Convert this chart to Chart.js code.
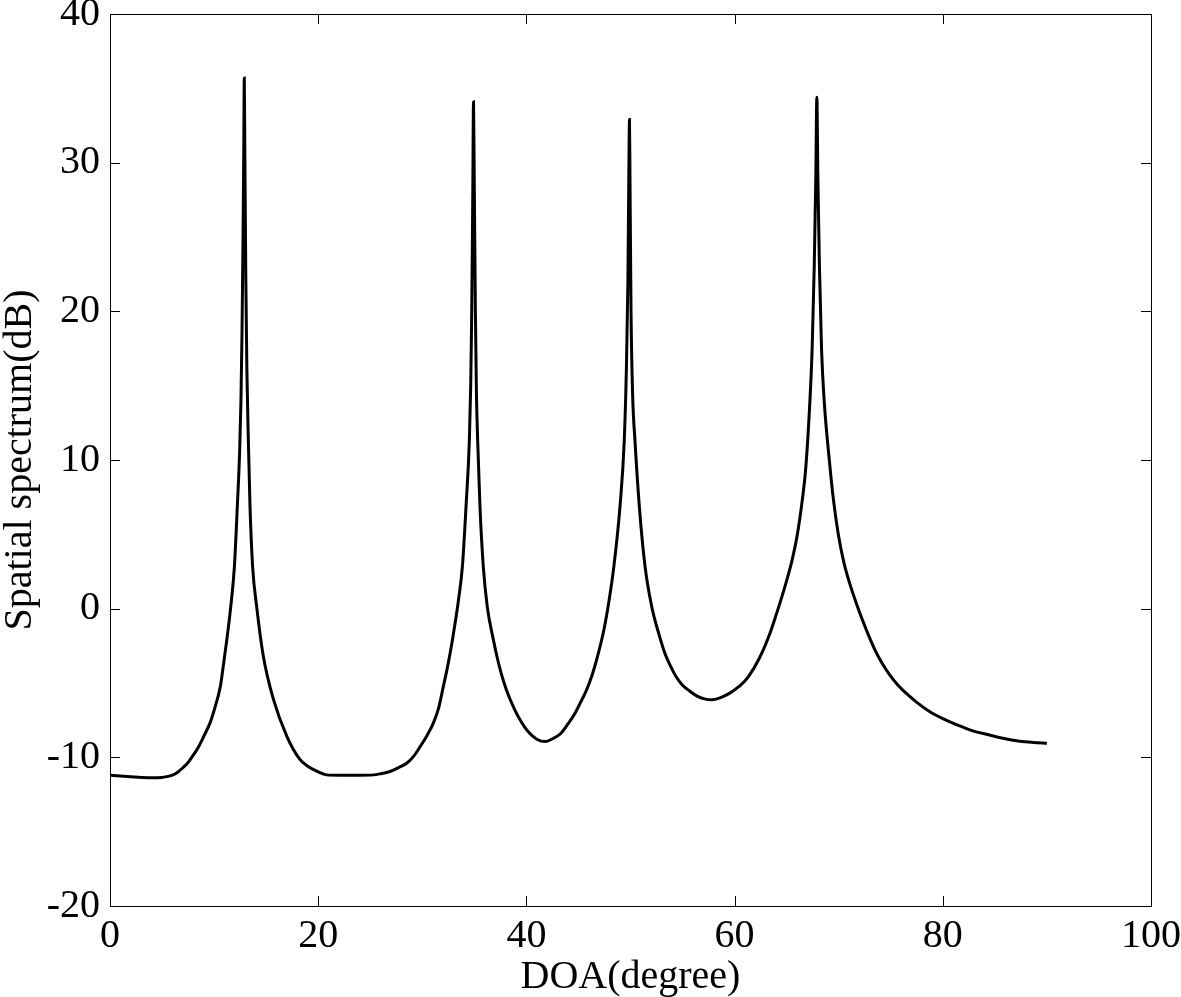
<!DOCTYPE html>
<html>
<head>
<meta charset="utf-8">
<script src="https://cdn.jsdelivr.net/npm/chart.js@4/dist/chart.umd.min.js"></script>
<style>
  html, body { margin: 0; padding: 0; background: #fff; }
  #wrap { width: 1181px; height: 997px; position: relative; }
</style>
</head>
<body>
<div id="wrap"><canvas id="c" width="1181" height="997"></canvas></div>
<script>
const doa = [
  0, 1, 2, 3, 4, 5, 6, 6.5, 7, 7.5, 8, 8.5, 9, 9.6, 10.1, 10.6, 10.95, 11.2, 11.6, 11.95,
  12.23, 12.45, 12.58, 12.68, 12.78, 12.85, 12.9, 12.95, 13.05, 13.15, 13.29, 13.45, 13.7, 14.09, 14.73,
  15.7, 17, 18.2, 19, 19.9, 20.8, 22, 24, 25.3, 26, 26.9, 27.7, 28.5, 29.2, 29.8, 30.4, 31.06,
  31.6, 32.0, 32.4, 32.75, 33.1, 33.46, 33.85, 34.2, 34.52, 34.65, 34.75, 34.85, 34.92, 35.0, 35.1,
  35.2, 35.32, 35.54, 35.86, 36.24, 36.8, 37.2, 37.6, 38.1, 38.85, 39.5, 40.2, 41, 41.8, 42.5, 43.3,
  44, 44.7, 45.2, 45.7, 46.3, 46.8, 47.45, 47.93, 48.4, 48.99, 49.4, 49.6, 49.75, 49.85, 49.9,
  49.95, 50.05, 50.2, 50.43, 50.85, 51.4, 52.04, 52.64, 53.3, 53.8, 54.4, 55.0, 55.7, 56.4, 57.1,
  57.8, 58.6, 59.5, 60.4, 61.3, 62.4, 63.4, 64.0, 64.84, 65.5, 66.03, 66.5, 66.83, 67.24, 67.45,
  67.65, 67.8, 67.9, 68.0, 68.15, 68.35, 68.6, 69.16, 69.5, 69.96, 70.5, 71.1, 71.7, 72.3, 72.9,
  73.5, 74.2, 74.9, 75.7, 76.5, 77.5, 78.8, 80, 81.3, 82.8, 84.5, 86, 87.4, 88.7, 90
];
const spectrum = [
  -11.2, -11.25, -11.3, -11.35, -11.38, -11.35, -11.2, -11.0, -10.7, -10.35, -9.85, -9.3, -8.6, -7.7, -6.6, -5.24, -3.5, -2.2, 0.14, 2.83,
  6.87, 10.5, 14, 18.5, 25, 31, 35.7, 31, 22, 16, 11.3, 6.87, 2.83, 0.14, -3.2,
  -6.1, -8.6, -10.1, -10.6, -10.95, -11.18, -11.2, -11.2, -11.18, -11.1, -10.95, -10.7, -10.4, -9.9, -9.27, -8.6, -7.7,
  -6.6, -5.3, -4.0, -2.7, -1.2, 0.5, 2.83, 6.87, 11.3, 15, 20, 28, 34.1, 28, 20,
  14.5, 11.3, 6.87, 2.83, 0.14, -2.0, -3.3, -4.4, -5.5, -6.75, -7.6, -8.3, -8.78, -8.94, -8.75, -8.4,
  -7.75, -7.0, -6.3, -5.6, -4.5, -3.3, -1.4, 0.5, 2.83, 6.87, 11.3, 16, 22, 30, 32.9,
  29, 20, 14.5, 11.3, 6.87, 2.83, 0.14, -1.5, -3.0, -3.8, -4.6, -5.15, -5.55, -5.88, -6.07,
  -6.13, -6.0, -5.7, -5.25, -4.6, -3.3, -1.65, -0.4, 1.5, 3.2, 5.0, 7.3, 9.4, 14.04, 17.5,
  23, 29, 34.4, 29, 23, 17.5, 14.04, 9.56, 7.3, 5.0, 3.1, 1.6, 0.35, -0.8, -1.85,
  -2.8, -3.7, -4.45, -5.15, -5.7, -6.3, -6.95, -7.4, -7.8, -8.2, -8.5, -8.75, -8.92, -9.0, -9.05
];
const xTicks = [0, 20, 40, 60, 80, 100];
const yTicks = [-20, -10, 0, 10, 20, 30, 40];
const xTitle = 'DOA(degree)';
const yTitle = 'Spatial spectrum(dB)';

const FONT = '"Liberation Serif", "Times New Roman", serif';

const frameTicks = {
  id: 'frameTicks',
  afterDraw(chart) {
    const { ctx, chartArea: a, scales } = chart;
    ctx.save();
    ctx.strokeStyle = '#000';
    ctx.lineWidth = 1;
    ctx.strokeRect(Math.round(a.left) + 0.5, Math.round(a.top) + 0.5,
                   Math.round(a.right - a.left), Math.round(a.bottom - a.top));
    const L = 10;
    ctx.beginPath();
    xTicks.forEach(v => {
      const px = Math.round(scales.x.getPixelForValue(v)) + 0.5;
      ctx.moveTo(px, a.bottom); ctx.lineTo(px, a.bottom - L);
      ctx.moveTo(px, a.top); ctx.lineTo(px, a.top + L);
    });
    yTicks.forEach(v => {
      const py = Math.round(scales.y.getPixelForValue(v)) + 0.5;
      ctx.moveTo(a.left, py); ctx.lineTo(a.left + L, py);
      ctx.moveTo(a.right, py); ctx.lineTo(a.right - L, py);
    });
    ctx.stroke();
    ctx.restore();
  }
};

new Chart(document.getElementById('c'), {
  type: 'line',
  data: {
    datasets: [{
      data: doa.map((x, i) => ({ x: x, y: spectrum[i] })),
      borderColor: '#000',
      borderWidth: 3,
      pointRadius: 0,
      cubicInterpolationMode: 'monotone',
      fill: false
    }]
  },
  options: {
    responsive: false,
    animation: false,
    devicePixelRatio: 1,
    layout: { padding: { top: 14, right: 30, left: 0, bottom: 0 } },
    plugins: { legend: { display: false }, tooltip: { enabled: false } },
    scales: {
      x: {
        type: 'linear',
        min: 0, max: 100,
        afterBuildTicks(s) { s.ticks = xTicks.map(v => ({ value: v })); },
        afterFit(s) { s.height = 91; s.paddingLeft = 0; s.paddingRight = 0; },
        grid: { display: false, drawTicks: false },
        border: { display: false },
        ticks: { color: '#000', font: { family: FONT, size: 40 }, padding: 6, maxRotation: 0 },
        title: { display: true, text: xTitle, color: '#000', font: { family: FONT, size: 40, lineHeight: 1.0 }, padding: { top: 0, bottom: 0 } }
      },
      y: {
        type: 'linear',
        min: -20, max: 40,
        afterBuildTicks(s) { s.ticks = yTicks.map(v => ({ value: v })); },
        afterFit(s) { s.width = 110; s.paddingTop = 0; s.paddingBottom = 0; },
        grid: { display: false, drawTicks: false },
        border: { display: false },
        ticks: { color: '#000', font: { family: FONT, size: 40 }, padding: 10 },
        title: { display: true, text: yTitle, color: '#000', font: { family: FONT, size: 40, lineHeight: 1.0 }, padding: { top: 0, bottom: 0 } }
      }
    }
  },
  plugins: [frameTicks]
});
</script>
</body>
</html>
